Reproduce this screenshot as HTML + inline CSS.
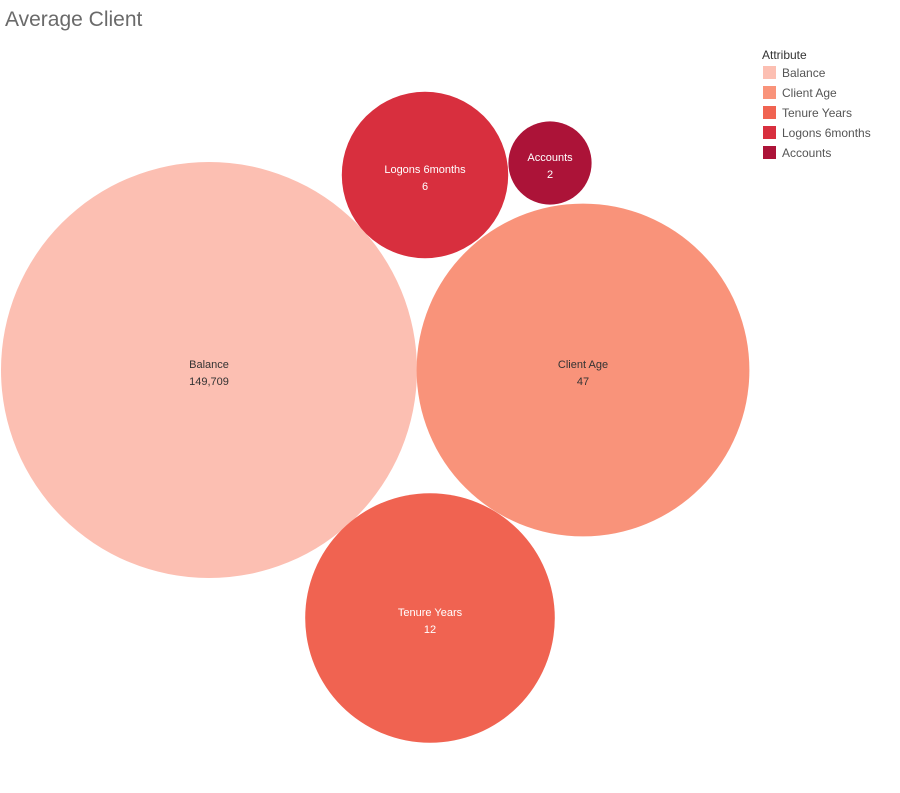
<!DOCTYPE html>
<html><head><meta charset="utf-8"><style>
body{margin:0;background:#fff;font-family:"Liberation Sans",sans-serif;}
#wrap{position:relative;width:900px;height:793px;overflow:hidden;}
#title{position:absolute;left:5px;top:8px;font-size:21px;color:#6a6a6a;font-weight:300;}
</style></head><body>
<div id="wrap">
<div id="title">Average Client</div>
<svg id="svg" width="900" height="793" style="position:absolute;left:0;top:0">
<g id="legend">
<text x="762" y="59" font-size="12" fill="#333">Attribute</text>
</g>
</svg>
</div>
<script>
const categories=["Balance","Client Age","Tenure Years","Logons 6months","Accounts"];
const values=[149709,47,12,6,2];
const colors=["#fcbfb2","#f9937a","#f06351","#d82f3e","#ac1338"];
const textColors=["#333","#333","#fff","#fff","#fff"];
const centers=[[209,370],[583,370],[430,618],[425,175],[550,163]];
const unit=41.6;
const svg=document.getElementById('svg');
const NS="http://www.w3.org/2000/svg";
// size by rank of value
const order=values.map((v,i)=>i).sort((a,b)=>values[b]-values[a]);
categories.forEach((c,i)=>{
  const rank=order.indexOf(i);
  const r=(categories.length-rank)*unit;
  const g=document.createElementNS(NS,'g');
  
  
  const ci=document.createElementNS(NS,'circle');
  ci.setAttribute('cx',centers[i][0]);ci.setAttribute('cy',centers[i][1]);ci.setAttribute('r',r);ci.setAttribute('fill',colors[i]);
  g.appendChild(ci);
  const t1=document.createElementNS(NS,'text');
  t1.setAttribute('x',centers[i][0]);t1.setAttribute('y',centers[i][1]-2);t1.setAttribute('text-anchor','middle');
  t1.setAttribute('font-size','11');t1.setAttribute('fill',textColors[i]);t1.textContent=c;
  
  
  g.appendChild(t1);
  const t2=document.createElementNS(NS,'text');
  t2.setAttribute('x',centers[i][0]);t2.setAttribute('y',centers[i][1]+15);t2.setAttribute('text-anchor','middle');
  t2.setAttribute('font-size','11');t2.setAttribute('fill',textColors[i]);t2.textContent=values[i].toLocaleString('en-US');
  
  
  g.appendChild(t2);
  svg.appendChild(g);
  const lg=document.getElementById('legend');
  const rc=document.createElementNS(NS,'rect');
  rc.setAttribute('x',763);rc.setAttribute('y',66+i*20);rc.setAttribute('width',13);rc.setAttribute('height',13);rc.setAttribute('fill',colors[i]);
  
  
  lg.appendChild(rc);
  const lt=document.createElementNS(NS,'text');
  lt.setAttribute('x',782);lt.setAttribute('y',77+i*20);lt.setAttribute('font-size','12');lt.setAttribute('fill','#555');lt.textContent=c;
  
  
  lg.appendChild(lt);
});
</script>
</body></html>
